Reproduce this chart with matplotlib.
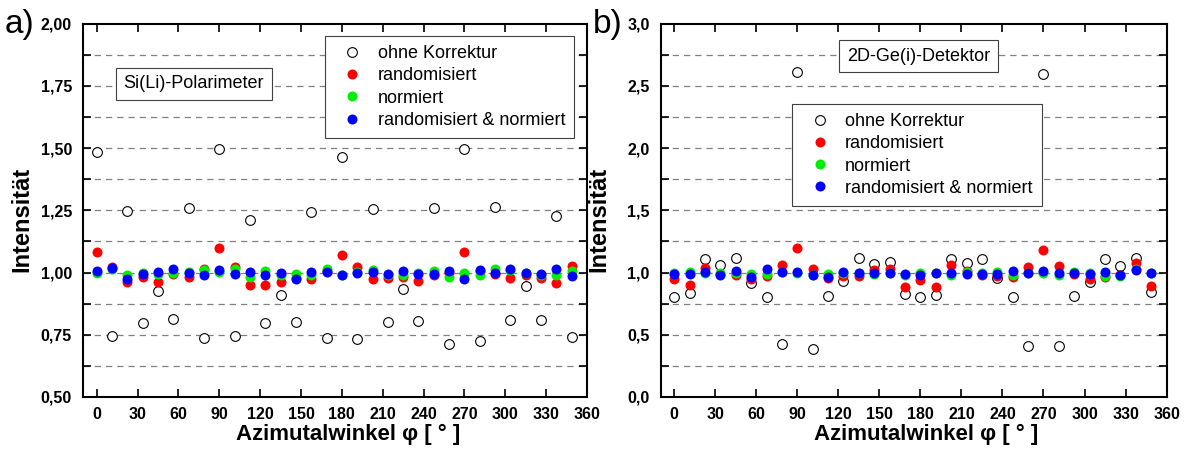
import matplotlib
matplotlib.use("Agg")
import matplotlib.pyplot as plt
from matplotlib.ticker import MultipleLocator, FuncFormatter

plt.rcParams['font.family'] = ['Liberation Sans', 'DejaVu Sans']

# azimuthal angles (deg)
phi = [0, 11.25, 22.5, 33.75, 45, 56.25, 67.5, 78.75,
       90, 101.25, 112.5, 123.75, 135, 146.25, 157.5, 168.75,
       180, 191.25, 202.5, 213.75, 225, 236.25, 247.5, 258.75,
       270, 281.25, 292.5, 303.75, 315, 326.25, 337.5, 348.75]

# a) Si(Li)-Polarimeter
si_raw = [1.485, 0.745, 1.246, 0.798, 0.927, 0.813, 1.259, 0.738,
          1.495, 0.745, 1.210, 0.798, 0.910, 0.802, 1.245, 0.738,
          1.465, 0.733, 1.255, 0.802, 0.933, 0.806, 1.258, 0.711,
          1.496, 0.724, 1.263, 0.809, 0.946, 0.809, 1.228, 0.739]
si_rand = [1.083, 1.024, 0.961, 0.981, 0.960, 0.995, 0.984, 1.016,
           1.097, 1.024, 0.950, 0.948, 0.961, 0.978, 0.976, 1.008,
           1.071, 1.022, 0.976, 0.977, 0.981, 0.968, 0.989, 1.000,
           1.083, 1.008, 0.995, 0.980, 0.990, 0.977, 0.957, 1.028]
si_norm = [1.000, 1.013, 0.989, 1.000, 0.995, 0.997, 1.003, 1.011,
           1.004, 1.013, 0.981, 1.008, 0.989, 0.995, 0.989, 1.013,
           0.989, 1.003, 1.011, 0.989, 0.989, 0.997, 1.008, 0.981,
           1.000, 0.991, 1.016, 1.011, 0.997, 0.989, 0.992, 1.007]
si_both = [1.005, 1.019, 0.973, 0.995, 1.001, 1.013, 1.000, 0.992,
           1.011, 0.995, 1.003, 0.989, 1.000, 0.973, 1.003, 1.004,
           0.989, 1.000, 1.003, 0.995, 1.005, 0.995, 0.995, 1.005,
           0.976, 1.011, 1.000, 1.016, 0.997, 0.995, 1.013, 0.987]

# b) 2D-Ge(i)-Detektor
ge_raw = [0.800, 0.833, 1.105, 1.057, 1.116, 0.914, 0.800, 0.423,
          2.609, 0.388, 0.811, 0.933, 1.113, 1.067, 1.084, 0.830,
          0.806, 0.820, 1.108, 1.075, 1.108, 0.954, 0.806, 0.407,
          2.598, 0.410, 0.811, 0.927, 1.108, 1.049, 1.116, 0.841]
ge_rand = [0.946, 0.900, 1.040, 0.989, 0.978, 0.946, 0.973, 1.059,
           1.197, 1.027, 0.960, 0.973, 0.973, 1.022, 1.027, 0.887,
           0.941, 0.887, 1.062, 1.016, 0.978, 0.973, 0.968, 1.043,
           1.178, 1.049, 0.989, 0.946, 0.962, 0.978, 1.075, 0.895]
ge_norm = [0.995, 1.008, 1.000, 1.000, 0.995, 0.989, 0.989, 1.008,
           1.000, 0.981, 0.989, 0.995, 0.995, 0.989, 1.000, 0.981,
           1.000, 0.995, 0.981, 1.008, 0.995, 1.008, 0.981, 1.000,
           1.000, 0.981, 1.008, 1.000, 0.973, 0.973, 1.027, 0.995]
ge_both = [0.989, 0.989, 1.008, 0.978, 1.016, 0.968, 1.027, 1.008,
           1.008, 0.984, 0.968, 1.008, 0.995, 1.000, 0.995, 0.989,
           0.978, 0.995, 1.000, 0.989, 0.989, 0.989, 1.013, 0.995,
           1.011, 0.995, 0.995, 0.989, 1.005, 0.978, 1.022, 0.995]

labels = ['ohne Korrektur', 'randomisiert', 'normiert', 'randomisiert & normiert']


def comma_fmt(ndec, step):
    # label only every second tick, decimal comma
    def f(v, pos):
        if round(v / step) % 2:
            return ''
        return f"{v:.{ndec}f}".replace('.', ',')
    return f


def panel(ax, raw, rand, norm, both, ylim, ystep, ndec, title, box_xy,
          leg_loc, leg_anchor):
    ax.plot(phi, raw, 'o', ms=7, mfc='white', mec='black', mew=0.8,
            label=labels[0], zorder=3)
    ax.plot(phi, rand, 'o', ms=7.2, color='#ff0000', mec='none',
            label=labels[1], zorder=4)
    ax.plot(phi, norm, 'o', ms=7.2, color='#00ee00', mec='none',
            label=labels[2], zorder=5)
    ax.plot(phi, both, 'o', ms=7.2, color='#0000ff', mec='none',
            label=labels[3], zorder=6)

    ax.set_xlim(-10, 360)
    ax.set_ylim(*ylim)
    ax.xaxis.set_major_locator(MultipleLocator(30))
    ax.yaxis.set_major_locator(MultipleLocator(ystep))
    ax.yaxis.set_major_formatter(FuncFormatter(comma_fmt(ndec, ystep)))

    # dashed grid at every y tick
    for yv in ax.get_yticks():
        if ylim[0] < yv < ylim[1]:
            ax.axhline(yv, color='#808080', ls=(0, (5, 4)), lw=0.9, zorder=1)

    ax.tick_params(direction='in', length=6, width=1.2, top=True, right=True,
                   labelsize=11.5)
    ax.tick_params(axis='y', pad=8)
    ax.tick_params(axis='x', pad=7)
    for lab in ax.get_xticklabels() + ax.get_yticklabels():
        lab.set_fontweight('bold')
    # the topmost y label is drawn smaller in the original
    ax.get_yticklabels()[-1].set_fontsize(9)
    for s in ax.spines.values():
        s.set_linewidth(1.5)

    ax.set_xlabel('Azimutalwinkel φ [ ° ]', fontsize=16, fontweight='bold')
    ax.xaxis.set_label_coords(0.525, -0.072)
    ax.set_ylabel('Intensität', fontsize=17, fontweight='bold')
    ax.yaxis.set_label_coords(-0.099, 0.475)

    ax.text(box_xy[0], box_xy[1], title, transform=ax.transAxes, fontsize=13,
            ha='center', va='center', zorder=7,
            bbox=dict(boxstyle='square,pad=0.42', fc='white', ec='#404040', lw=0.8))

    leg = ax.legend(loc=leg_loc, bbox_to_anchor=leg_anchor, borderaxespad=0,
                    fontsize=13, fancybox=False, framealpha=1,
                    edgecolor='#404040', labelspacing=0.29, handletextpad=0.4,
                    borderpad=0.52, handlelength=2.0)
    leg.get_frame().set_linewidth(0.8)
    leg.set_zorder(8)


fig = plt.figure(figsize=(11.86, 4.49), dpi=100)
ax1 = fig.add_axes([0.0700, 0.116, 0.425, 0.831])
ax2 = fig.add_axes([0.5570, 0.116, 0.4266, 0.831])

panel(ax1, si_raw, si_rand, si_norm, si_both, (0.5, 2.0), 0.125, 2,
      'Si(Li)-Polarimeter', (0.22, 0.839), 'upper right', (0.975, 0.968))
panel(ax2, ge_raw, ge_rand, ge_norm, ge_both, (0.0, 3.0), 0.25, 1,
      '2D-Ge(i)-Detektor', (0.51, 0.913), 'upper left', (0.26, 0.786))

fig.text(0.004, 0.945, 'a)', fontsize=24, ha='left', va='center')
fig.text(0.500, 0.945, 'b)', fontsize=24, ha='left', va='center')

fig.savefig('out.png', dpi=100)
